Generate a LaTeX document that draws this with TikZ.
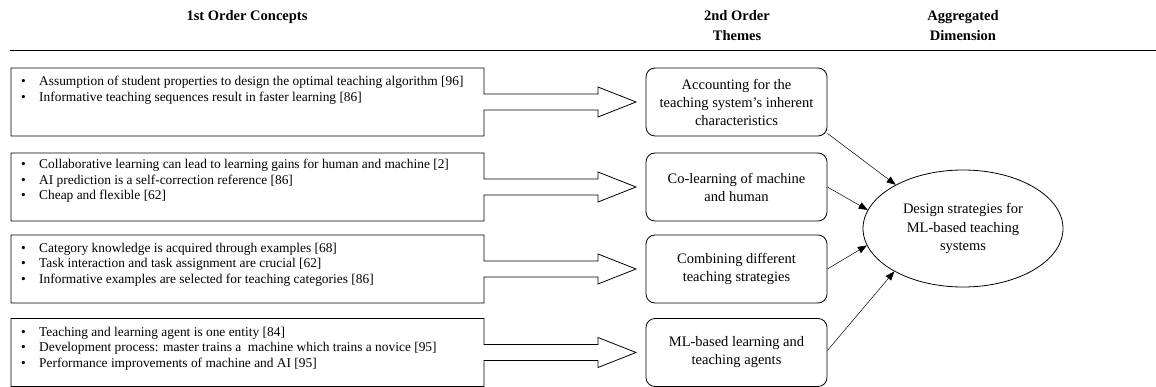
\documentclass[tikz,border=0pt]{standalone}
\usepackage{fontspec}
\setmainfont{Liberation Serif}
\usetikzlibrary{arrows.meta,shapes.geometric}
\newcommand{\bmark}{\makebox[18pt][l]{\textbullet}}
\begin{document}
\begin{tikzpicture}[x=1pt,y=-1pt,
  hdr/.style={font=\bfseries\fontsize{14.5}{20}\selectfont, align=center, inner sep=0pt},
  bul/.style={font=\fontsize{13.4}{15.5}\selectfont, anchor=north west, inner sep=0pt, align=left},
  callout/.style={draw, line width=0.8pt, fill=white},
  theme/.style={draw, line width=0.8pt, rounded corners=9pt, minimum width=181pt, minimum height=68pt, align=center, inner sep=2pt, font=\fontsize{14.5}{18}\selectfont},
  dim/.style={draw, line width=0.8pt, ellipse, minimum width=200pt, minimum height=117pt, inner sep=0pt, align=center, font=\fontsize{14.5}{18.5}\selectfont},
  link/.style={-{Triangle[length=9pt,width=7pt]}, line width=0.5pt}
]
\useasboundingbox (0,0) rectangle (1156,387);

% headers
\node[hdr] (h1) at (247,17) {1st Order Concepts};
\node[hdr] (h2) at (737,26) {2nd Order\\Themes};
\node[hdr] (h3) at (963,26) {Aggregated\\Dimension};
\coordinate (rl) at (10,50);
\coordinate (rr) at (1156,50);
\draw[line width=0.8pt] (rl) -- (rr);

% callout boxes with block arrows
\foreach \t/\c in {68/102, 153/187, 235/269, 318.5/352.5}{
  \draw[callout] (11,\t) -- (484,\t) -- (484,\c-8) -- (598,\c-8) -- (598,\c-15)
     -- (636,\c) -- (598,\c+15) -- (598,\c+8) -- (484,\c+8) -- (484,\t+68) -- (11,\t+68) -- cycle;
}

% bullet texts
\node[bul] (c1) at (21,76) {\bmark Assumption of student properties to design the optimal teaching algorithm [96]\\\bmark Informative teaching sequences result in faster learning [86]};
\node[bul] (c2) at (21,159) {\bmark Collaborative learning can lead to learning gains for human and machine [2]\\\bmark AI prediction is a self-correction reference [86]\\\bmark Cheap and flexible [62]};
\node[bul] (c3) at (21,243) {\bmark Category knowledge is acquired through examples [68]\\\bmark Task interaction and task assignment are crucial [62]\\\bmark Informative examples are selected for teaching categories [86]};
\node[bul] (c4) at (21,327) {\bmark Teaching and learning agent is one entity [84]\\\bmark Development process: master trains a\ \ machine which trains a novice [95]\\\bmark Performance improvements of machine and AI [95]};

% themes
\node[theme] (t1) at (736.5,102) {Accounting for the\\teaching system's inherent\\characteristics};
\node[theme] (t2) at (736.5,187) {Co-learning of machine\\and human};
\node[theme] (t3) at (736.5,269) {Combining different\\teaching strategies};
\node[theme] (t4) at (736.5,352.5) {ML-based learning and\\teaching agents};

% dimension
\node[dim] (d) at (963,228.5) {Design strategies for\\ML-based teaching\\systems};

\draw[link] (t1.south east) ++(0,-3) -- (d.147);
\draw[link] (t2.east) -- (d.169);
\draw[link] (t3.east) -- (d.190);
\draw[link] (t4.east) ++(0,-2) -- (d.212);
\end{tikzpicture}
\end{document}
